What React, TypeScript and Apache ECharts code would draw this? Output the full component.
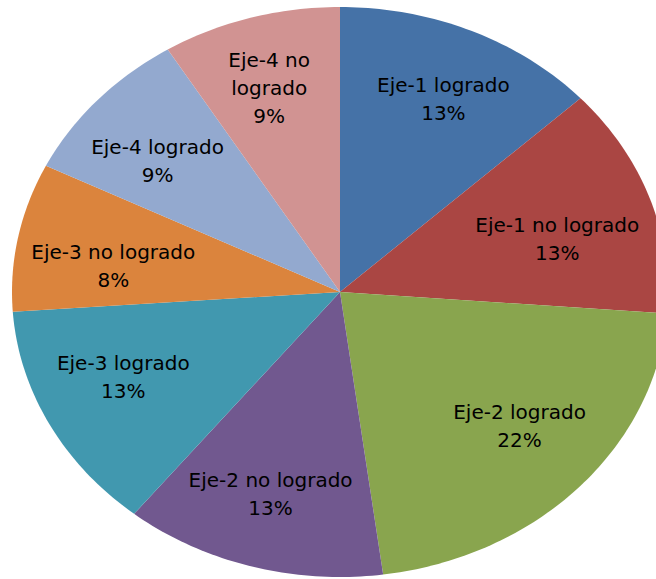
import React, { useEffect, useRef } from "react";
import * as echarts from "echarts";

const categories = [
  "Eje-1 logrado",
  "Eje-1 no logrado",
  "Eje-2 logrado",
  "Eje-2 no logrado",
  "Eje-3 logrado",
  "Eje-3 no logrado",
  "Eje-4 logrado",
  "Eje-4 no logrado",
];
const shares = [13.1, 13.1, 21.7, 12.9, 13.1, 8.4, 8.9, 8.8];
const colors = ["#4572A7", "#AA4643", "#89A54E", "#71588F", "#4198AF", "#DB843D", "#93A9CF", "#D19392"];

const W = 656;
const H = 579;
const CX = 340;
const CY = 292;
const RX = 328;
const RY = 285;
const FONT_SIZE = 20;
const FONT_FAMILY = "DejaVu Sans";
const LINE_H = 28;
const FIT_K = 0.97;
const INWARD_Y = 13;

let measureCtx: CanvasRenderingContext2D | null = null;
function textWidth(s: string): number {
  if (!measureCtx) {
    const c = document.createElement("canvas");
    measureCtx = c.getContext("2d");
  }
  if (!measureCtx) return s.length * FONT_SIZE * 0.6;
  measureCtx.font = `${FONT_SIZE}px "${FONT_FAMILY}"`;
  return measureCtx.measureText(s).width;
}

export default function App() {
  const ref = useRef<HTMLDivElement>(null);
  useEffect(() => {
    if (!ref.current) return;
    const chart = echarts.init(ref.current, undefined, { renderer: "svg" });
    const total = shares.reduce((a, b) => a + b, 0);
    const cum: number[] = [];
    let acc = 0;
    shares.forEach((v) => {
      cum.push(acc);
      acc += v;
    });

    const renderItem = (params: any, api: any) => {
      const i = params.dataIndex;
      const v = api.value(0);
      const a0 = (cum[i] / total) * Math.PI * 2;
      const a1 = ((cum[i] + v) / total) * Math.PI * 2;
      const steps = Math.max(2, Math.ceil((a1 - a0) / (Math.PI / 180)));
      const points: number[][] = [[CX, CY]];
      for (let k = 0; k <= steps; k++) {
        const a = a0 + ((a1 - a0) * k) / steps;
        points.push([CX + RX * Math.sin(a), CY - RY * Math.cos(a)]);
      }
      const mid = (a0 + a1) / 2;
      const s = Math.sin(mid);
      const c = Math.cos(mid);
      const frac = v / total;
      let name = categories[i];
      if (frac < 0.1 && Math.abs(c) > 0.85) {
        name = name.replace(/ (\S+)$/, "\n$1");
      }
      const lines = [...name.split("\n"), Math.round(frac * 100) + "%"];
      const maxW = Math.max(...lines.map(textWidth));
      const hw = maxW / 2 / RX;
      const hh = (lines.length * LINE_H) / 2 / RY;
      const B = Math.abs(s) * hw + Math.abs(c) * hh;
      const C = hw * hw + hh * hh - FIT_K * FIT_K;
      const d = -B + Math.sqrt(B * B - C);
      const lx = CX + d * s * RX;
      const ly = CY - d * c * RY + (c >= 0 ? INWARD_Y : -INWARD_Y);
      return {
        type: "group",
        children: [
          {
            type: "polygon",
            shape: { points },
            style: { fill: colors[i] },
          },
          {
            type: "text",
            x: lx,
            y: ly,
            z2: 10,
            style: {
              text: lines.join("\n"),
              fill: "#000000",
              fontSize: FONT_SIZE,
              fontFamily: FONT_FAMILY,
              lineHeight: LINE_H,
              align: "center",
              verticalAlign: "middle",
            },
          },
        ],
      };
    };

    chart.setOption({
      animation: false,
      backgroundColor: "#ffffff",
      series: [
        {
          type: "custom",
          coordinateSystem: "none",
          renderItem,
          data: shares.map((v, i) => ({ name: categories[i], value: v })),
        },
      ],
    });
    return () => chart.dispose();
  }, []);
  return <div ref={ref} style={{ position: "fixed", left: 0, top: 0, width: W, height: H }} />;
}
